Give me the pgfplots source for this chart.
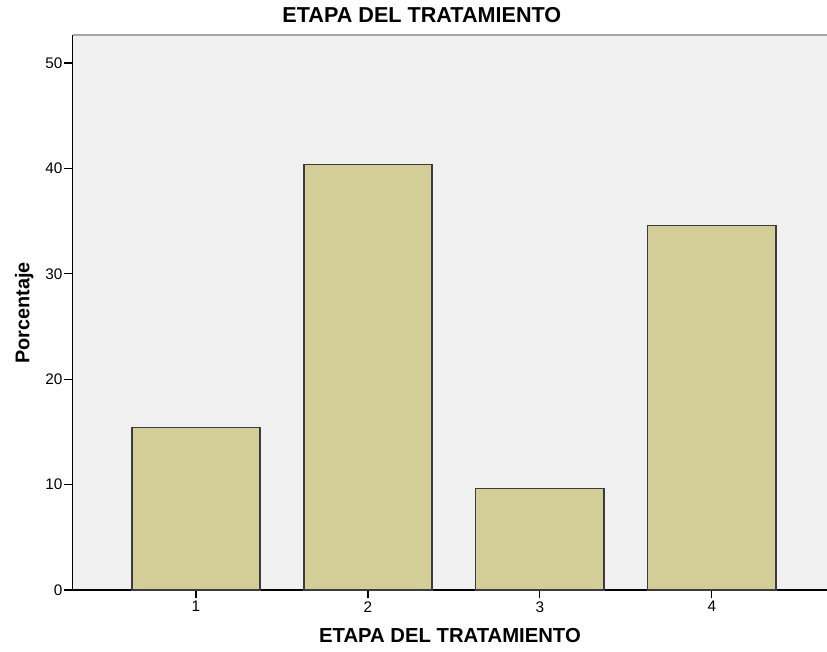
\documentclass[border=0pt]{standalone}
\usepackage{pgfplots}
\pgfplotsset{compat=1.18}
\usepackage{fontspec}
\setmainfont{Liberation Sans}
\definecolor{barfill}{RGB}{211,206,151}
\definecolor{bgc}{RGB}{240,240,240}
\definecolor{edge}{RGB}{60,60,60}
\begin{document}
\begin{tikzpicture}
\useasboundingbox (-54.375pt,-45.75pt) rectangle (565.875pt,442.5pt);
\begin{axis}[
 at={(0,0)}, anchor=south west,
 scale only axis, width=565.875pt, height=416.25pt,
 xmin=0.282, xmax=4.669, ymin=0, ymax=52.66,
 axis background/.style={fill=bgc},
 axis x line*=bottom, axis y line*=left,
 axis line style={black, line width=1pt, -},
 xtick={1,2,3,4}, ytick={0,10,...,50},
 tick style={black, line width=0.8pt},
 tick align=outside, major tick length=6pt,
 ticklabel style={font=\fontsize{11.5}{13}\selectfont},
 yticklabel style={xshift=2pt},
 xticklabel style={yshift=1pt},
 /pgf/number format/assume math mode=true,
 title={ETAPA DEL TRATAMIENTO},
 title style={at={(axis description cs:0.463,1.036)}, anchor=center, yshift=-6pt, font=\bfseries\fontsize{16.2}{19}\selectfont},
 xlabel={ETAPA DEL TRATAMIENTO},
 xlabel style={at={(axis description cs:0.5003,-0.0829)}, anchor=center, font=\bfseries\fontsize{15.2}{18}\selectfont},
 ylabel={Porcentaje},
 ylabel style={at={(axis description cs:-0.064,0.499)}, anchor=center, rotate=0, font=\bfseries\fontsize{14.9}{17}\selectfont},
]
\addplot[ybar, bar width=0.745, fill=barfill, draw=edge, line width=0.9pt] coordinates {(1,15.4) (2,40.4) (3,9.6) (4,34.6)};
\draw[gray!70, line width=1.5pt] (rel axis cs:0,1) -- (rel axis cs:1,1);
\end{axis}
\end{tikzpicture}
\end{document}
